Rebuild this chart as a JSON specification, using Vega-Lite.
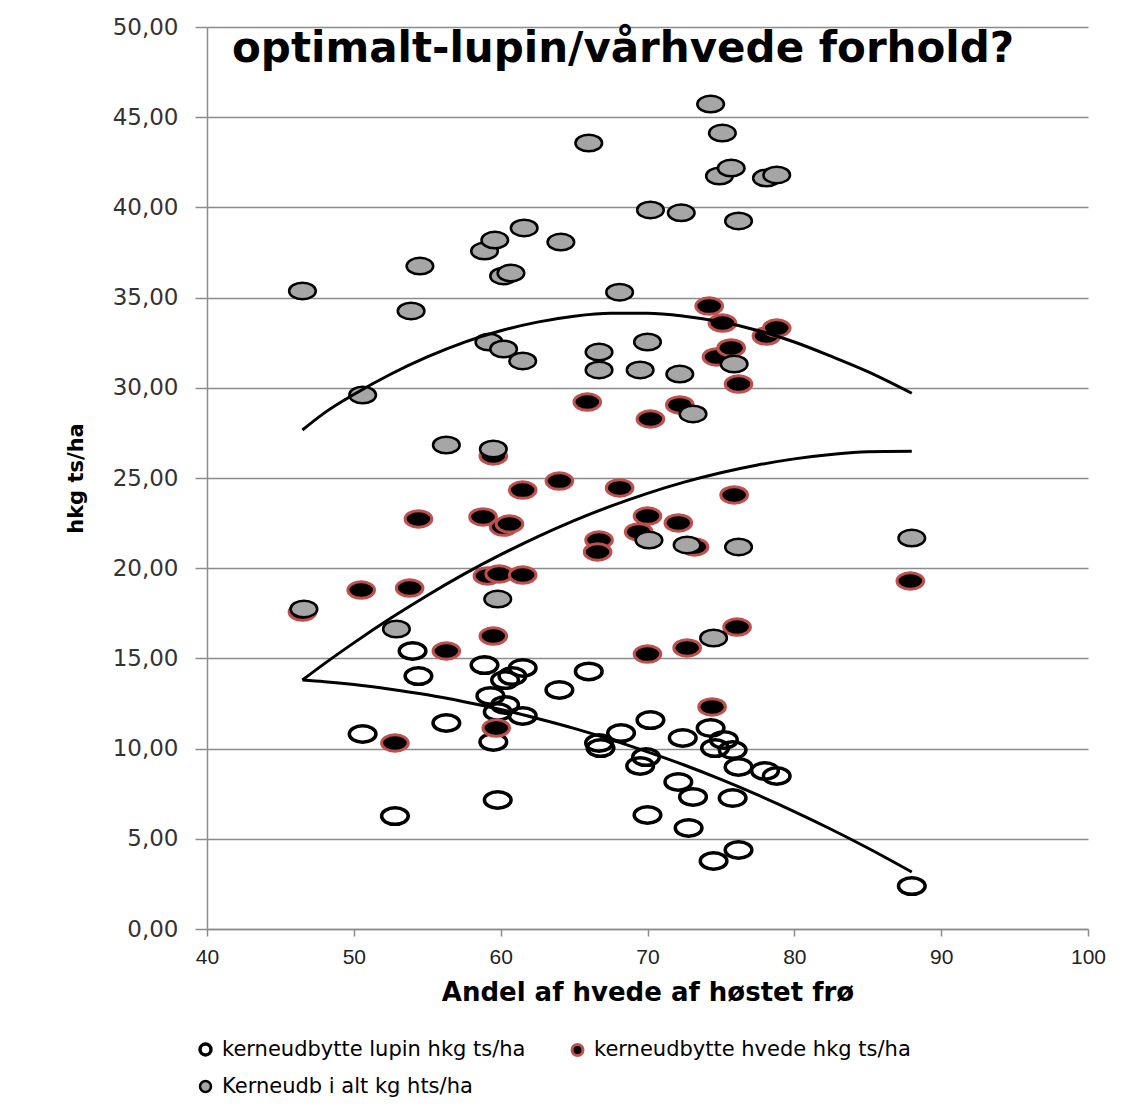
{
  "$schema": "https://vega.github.io/schema/vega-lite/v6.json",
  "autosize": "none",
  "width": 881,
  "height": 902,
  "padding": {"left": 207, "top": 27, "right": 40, "bottom": 179},
  "background": "white",
  "title": {
    "text": "optimalt-lupin/vårhvede forhold?",
    "anchor": "start",
    "frame": "group",
    "orient": "top",
    "baseline": "top",
    "offset": 0,
    "dx": 25,
    "dy": 55,
    "font": "DejaVu Sans",
    "fontWeight": "bold",
    "fontSize": 42,
    "color": "#000000"
  },
  "datasets": {
    "pts": [
      {"x": 54.0, "y": 15.41, "serie": "kerneudbytte lupin hkg ts/ha"},
      {"x": 54.4, "y": 14.02, "serie": "kerneudbytte lupin hkg ts/ha"},
      {"x": 58.9, "y": 14.63, "serie": "kerneudbytte lupin hkg ts/ha"},
      {"x": 61.5, "y": 14.47, "serie": "kerneudbytte lupin hkg ts/ha"},
      {"x": 60.3, "y": 13.8, "serie": "kerneudbytte lupin hkg ts/ha"},
      {"x": 60.8, "y": 14.02, "serie": "kerneudbytte lupin hkg ts/ha"},
      {"x": 64.0, "y": 13.25, "serie": "kerneudbytte lupin hkg ts/ha"},
      {"x": 66.0, "y": 14.28, "serie": "kerneudbytte lupin hkg ts/ha"},
      {"x": 59.3, "y": 12.92, "serie": "kerneudbytte lupin hkg ts/ha"},
      {"x": 60.3, "y": 12.42, "serie": "kerneudbytte lupin hkg ts/ha"},
      {"x": 59.8, "y": 12.03, "serie": "kerneudbytte lupin hkg ts/ha"},
      {"x": 61.5, "y": 11.81, "serie": "kerneudbytte lupin hkg ts/ha"},
      {"x": 56.3, "y": 11.42, "serie": "kerneudbytte lupin hkg ts/ha"},
      {"x": 50.6, "y": 10.81, "serie": "kerneudbytte lupin hkg ts/ha"},
      {"x": 59.5, "y": 10.37, "serie": "kerneudbytte lupin hkg ts/ha"},
      {"x": 59.8, "y": 7.15, "serie": "kerneudbytte lupin hkg ts/ha"},
      {"x": 52.8, "y": 6.26, "serie": "kerneudbytte lupin hkg ts/ha"},
      {"x": 70.2, "y": 11.58, "serie": "kerneudbytte lupin hkg ts/ha"},
      {"x": 68.2, "y": 10.86, "serie": "kerneudbytte lupin hkg ts/ha"},
      {"x": 66.7, "y": 10.31, "serie": "kerneudbytte lupin hkg ts/ha"},
      {"x": 66.8, "y": 10.03, "serie": "kerneudbytte lupin hkg ts/ha"},
      {"x": 72.4, "y": 10.59, "serie": "kerneudbytte lupin hkg ts/ha"},
      {"x": 74.3, "y": 11.14, "serie": "kerneudbytte lupin hkg ts/ha"},
      {"x": 75.2, "y": 10.48, "serie": "kerneudbytte lupin hkg ts/ha"},
      {"x": 74.6, "y": 10.03, "serie": "kerneudbytte lupin hkg ts/ha"},
      {"x": 75.8, "y": 9.92, "serie": "kerneudbytte lupin hkg ts/ha"},
      {"x": 69.9, "y": 9.53, "serie": "kerneudbytte lupin hkg ts/ha"},
      {"x": 69.5, "y": 9.04, "serie": "kerneudbytte lupin hkg ts/ha"},
      {"x": 76.2, "y": 8.98, "serie": "kerneudbytte lupin hkg ts/ha"},
      {"x": 78.0, "y": 8.76, "serie": "kerneudbytte lupin hkg ts/ha"},
      {"x": 78.8, "y": 8.48, "serie": "kerneudbytte lupin hkg ts/ha"},
      {"x": 72.1, "y": 8.15, "serie": "kerneudbytte lupin hkg ts/ha"},
      {"x": 73.1, "y": 7.32, "serie": "kerneudbytte lupin hkg ts/ha"},
      {"x": 75.8, "y": 7.26, "serie": "kerneudbytte lupin hkg ts/ha"},
      {"x": 70.0, "y": 6.32, "serie": "kerneudbytte lupin hkg ts/ha"},
      {"x": 72.8, "y": 5.6, "serie": "kerneudbytte lupin hkg ts/ha"},
      {"x": 76.2, "y": 4.38, "serie": "kerneudbytte lupin hkg ts/ha"},
      {"x": 74.5, "y": 3.77, "serie": "kerneudbytte lupin hkg ts/ha"},
      {"x": 88.0, "y": 2.38, "serie": "kerneudbytte lupin hkg ts/ha"},

      {"x": 74.2, "y": 34.53, "serie": "kerneudbytte hvede hkg ts/ha"},
      {"x": 75.1, "y": 33.59, "serie": "kerneudbytte hvede hkg ts/ha"},
      {"x": 74.7, "y": 31.71, "serie": "kerneudbytte hvede hkg ts/ha"},
      {"x": 75.7, "y": 32.21, "serie": "kerneudbytte hvede hkg ts/ha"},
      {"x": 78.1, "y": 32.87, "serie": "kerneudbytte hvede hkg ts/ha"},
      {"x": 78.8, "y": 33.31, "serie": "kerneudbytte hvede hkg ts/ha"},
      {"x": 76.2, "y": 30.21, "serie": "kerneudbytte hvede hkg ts/ha"},
      {"x": 65.9, "y": 29.21, "serie": "kerneudbytte hvede hkg ts/ha"},
      {"x": 70.2, "y": 28.27, "serie": "kerneudbytte hvede hkg ts/ha"},
      {"x": 72.2, "y": 29.05, "serie": "kerneudbytte hvede hkg ts/ha"},
      {"x": 59.5, "y": 26.22, "serie": "kerneudbytte hvede hkg ts/ha"},
      {"x": 64.0, "y": 24.83, "serie": "kerneudbytte hvede hkg ts/ha"},
      {"x": 61.5, "y": 24.33, "serie": "kerneudbytte hvede hkg ts/ha"},
      {"x": 68.1, "y": 24.45, "serie": "kerneudbytte hvede hkg ts/ha"},
      {"x": 75.9, "y": 24.06, "serie": "kerneudbytte hvede hkg ts/ha"},
      {"x": 54.4, "y": 22.73, "serie": "kerneudbytte hvede hkg ts/ha"},
      {"x": 58.8, "y": 22.84, "serie": "kerneudbytte hvede hkg ts/ha"},
      {"x": 60.2, "y": 22.28, "serie": "kerneudbytte hvede hkg ts/ha"},
      {"x": 60.6, "y": 22.45, "serie": "kerneudbytte hvede hkg ts/ha"},
      {"x": 70.0, "y": 22.89, "serie": "kerneudbytte hvede hkg ts/ha"},
      {"x": 72.1, "y": 22.51, "serie": "kerneudbytte hvede hkg ts/ha"},
      {"x": 69.4, "y": 22.01, "serie": "kerneudbytte hvede hkg ts/ha"},
      {"x": 66.7, "y": 21.56, "serie": "kerneudbytte hvede hkg ts/ha"},
      {"x": 66.6, "y": 20.9, "serie": "kerneudbytte hvede hkg ts/ha"},
      {"x": 73.2, "y": 21.18, "serie": "kerneudbytte hvede hkg ts/ha"},
      {"x": 50.5, "y": 18.79, "serie": "kerneudbytte hvede hkg ts/ha"},
      {"x": 53.8, "y": 18.9, "serie": "kerneudbytte hvede hkg ts/ha"},
      {"x": 59.1, "y": 19.57, "serie": "kerneudbytte hvede hkg ts/ha"},
      {"x": 59.9, "y": 19.68, "serie": "kerneudbytte hvede hkg ts/ha"},
      {"x": 61.5, "y": 19.62, "serie": "kerneudbytte hvede hkg ts/ha"},
      {"x": 46.5, "y": 17.57, "serie": "kerneudbytte hvede hkg ts/ha"},
      {"x": 87.9, "y": 19.29, "serie": "kerneudbytte hvede hkg ts/ha"},
      {"x": 56.3, "y": 15.41, "serie": "kerneudbytte hvede hkg ts/ha"},
      {"x": 59.5, "y": 16.24, "serie": "kerneudbytte hvede hkg ts/ha"},
      {"x": 70.0, "y": 15.24, "serie": "kerneudbytte hvede hkg ts/ha"},
      {"x": 72.7, "y": 15.58, "serie": "kerneudbytte hvede hkg ts/ha"},
      {"x": 76.1, "y": 16.74, "serie": "kerneudbytte hvede hkg ts/ha"},
      {"x": 52.8, "y": 10.31, "serie": "kerneudbytte hvede hkg ts/ha"},
      {"x": 59.7, "y": 11.14, "serie": "kerneudbytte hvede hkg ts/ha"},
      {"x": 74.4, "y": 12.31, "serie": "kerneudbytte hvede hkg ts/ha"},

      {"x": 46.5, "y": 35.37, "serie": "Kerneudb i alt kg hts/ha"},
      {"x": 54.5, "y": 36.75, "serie": "Kerneudb i alt kg hts/ha"},
      {"x": 53.9, "y": 34.26, "serie": "Kerneudb i alt kg hts/ha"},
      {"x": 58.9, "y": 37.58, "serie": "Kerneudb i alt kg hts/ha"},
      {"x": 59.6, "y": 38.19, "serie": "Kerneudb i alt kg hts/ha"},
      {"x": 60.2, "y": 36.2, "serie": "Kerneudb i alt kg hts/ha"},
      {"x": 60.7, "y": 36.36, "serie": "Kerneudb i alt kg hts/ha"},
      {"x": 61.6, "y": 38.86, "serie": "Kerneudb i alt kg hts/ha"},
      {"x": 64.1, "y": 38.08, "serie": "Kerneudb i alt kg hts/ha"},
      {"x": 66.0, "y": 43.57, "serie": "Kerneudb i alt kg hts/ha"},
      {"x": 68.1, "y": 35.3, "serie": "Kerneudb i alt kg hts/ha"},
      {"x": 70.2, "y": 39.86, "serie": "Kerneudb i alt kg hts/ha"},
      {"x": 72.3, "y": 39.7, "serie": "Kerneudb i alt kg hts/ha"},
      {"x": 74.3, "y": 45.73, "serie": "Kerneudb i alt kg hts/ha"},
      {"x": 75.1, "y": 44.12, "serie": "Kerneudb i alt kg hts/ha"},
      {"x": 74.9, "y": 41.74, "serie": "Kerneudb i alt kg hts/ha"},
      {"x": 75.7, "y": 42.18, "serie": "Kerneudb i alt kg hts/ha"},
      {"x": 76.2, "y": 39.25, "serie": "Kerneudb i alt kg hts/ha"},
      {"x": 78.1, "y": 41.63, "serie": "Kerneudb i alt kg hts/ha"},
      {"x": 78.8, "y": 41.8, "serie": "Kerneudb i alt kg hts/ha"},
      {"x": 50.6, "y": 29.6, "serie": "Kerneudb i alt kg hts/ha"},
      {"x": 59.2, "y": 32.54, "serie": "Kerneudb i alt kg hts/ha"},
      {"x": 60.2, "y": 32.15, "serie": "Kerneudb i alt kg hts/ha"},
      {"x": 61.5, "y": 31.49, "serie": "Kerneudb i alt kg hts/ha"},
      {"x": 66.7, "y": 31.98, "serie": "Kerneudb i alt kg hts/ha"},
      {"x": 66.7, "y": 30.99, "serie": "Kerneudb i alt kg hts/ha"},
      {"x": 69.5, "y": 30.99, "serie": "Kerneudb i alt kg hts/ha"},
      {"x": 70.0, "y": 32.54, "serie": "Kerneudb i alt kg hts/ha"},
      {"x": 72.2, "y": 30.76, "serie": "Kerneudb i alt kg hts/ha"},
      {"x": 73.1, "y": 28.55, "serie": "Kerneudb i alt kg hts/ha"},
      {"x": 75.9, "y": 31.32, "serie": "Kerneudb i alt kg hts/ha"},
      {"x": 56.3, "y": 26.83, "serie": "Kerneudb i alt kg hts/ha"},
      {"x": 59.5, "y": 26.61, "serie": "Kerneudb i alt kg hts/ha"},
      {"x": 70.1, "y": 21.56, "serie": "Kerneudb i alt kg hts/ha"},
      {"x": 72.7, "y": 21.29, "serie": "Kerneudb i alt kg hts/ha"},
      {"x": 76.2, "y": 21.18, "serie": "Kerneudb i alt kg hts/ha"},
      {"x": 88.0, "y": 21.67, "serie": "Kerneudb i alt kg hts/ha"},
      {"x": 46.6, "y": 17.74, "serie": "Kerneudb i alt kg hts/ha"},
      {"x": 59.8, "y": 18.29, "serie": "Kerneudb i alt kg hts/ha"},
      {"x": 52.9, "y": 16.63, "serie": "Kerneudb i alt kg hts/ha"},
      {"x": 74.5, "y": 16.13, "serie": "Kerneudb i alt kg hts/ha"}
    ],
    "trend": [
      {"x": 46.5, "y": 27.66, "t": "total"}, {"x": 48, "y": 28.61, "t": "total"}, {"x": 50, "y": 29.63, "t": "total"},
      {"x": 52.5, "y": 30.75, "t": "total"}, {"x": 55, "y": 31.71, "t": "total"}, {"x": 57.5, "y": 32.52, "t": "total"},
      {"x": 60, "y": 33.16, "t": "total"}, {"x": 62.5, "y": 33.64, "t": "total"}, {"x": 65, "y": 33.97, "t": "total"},
      {"x": 67.5, "y": 34.13, "t": "total"}, {"x": 70, "y": 34.13, "t": "total"}, {"x": 72.5, "y": 33.97, "t": "total"},
      {"x": 75, "y": 33.66, "t": "total"}, {"x": 77.5, "y": 33.18, "t": "total"}, {"x": 80, "y": 32.54, "t": "total"},
      {"x": 82.5, "y": 31.75, "t": "total"}, {"x": 85, "y": 30.9, "t": "total"}, {"x": 88, "y": 29.7, "t": "total"},

      {"x": 46.5, "y": 13.8, "t": "hvede"}, {"x": 48, "y": 14.71, "t": "hvede"}, {"x": 50, "y": 15.86, "t": "hvede"},
      {"x": 52.5, "y": 17.22, "t": "hvede"}, {"x": 55, "y": 18.49, "t": "hvede"}, {"x": 57.5, "y": 19.67, "t": "hvede"},
      {"x": 60, "y": 20.75, "t": "hvede"}, {"x": 62.5, "y": 21.74, "t": "hvede"}, {"x": 65, "y": 22.64, "t": "hvede"},
      {"x": 67.5, "y": 23.44, "t": "hvede"}, {"x": 70, "y": 24.15, "t": "hvede"}, {"x": 72.5, "y": 24.77, "t": "hvede"},
      {"x": 75, "y": 25.29, "t": "hvede"}, {"x": 77.5, "y": 25.72, "t": "hvede"}, {"x": 80, "y": 26.06, "t": "hvede"},
      {"x": 82.5, "y": 26.3, "t": "hvede"}, {"x": 85, "y": 26.45, "t": "hvede"}, {"x": 88, "y": 26.48, "t": "hvede"},

      {"x": 46.5, "y": 13.8, "t": "lupin"}, {"x": 48, "y": 13.71, "t": "lupin"}, {"x": 50, "y": 13.55, "t": "lupin"},
      {"x": 52.5, "y": 13.29, "t": "lupin"}, {"x": 55, "y": 12.98, "t": "lupin"}, {"x": 57.5, "y": 12.6, "t": "lupin"},
      {"x": 60, "y": 12.17, "t": "lupin"}, {"x": 62.5, "y": 11.67, "t": "lupin"}, {"x": 65, "y": 11.12, "t": "lupin"},
      {"x": 67.5, "y": 10.5, "t": "lupin"}, {"x": 70, "y": 9.82, "t": "lupin"}, {"x": 72.5, "y": 9.09, "t": "lupin"},
      {"x": 75, "y": 8.29, "t": "lupin"}, {"x": 77.5, "y": 7.43, "t": "lupin"}, {"x": 80, "y": 6.51, "t": "lupin"},
      {"x": 82.5, "y": 5.53, "t": "lupin"}, {"x": 85, "y": 4.49, "t": "lupin"}, {"x": 88, "y": 3.16, "t": "lupin"}
    ]
  },
  "layer": [
    {
      "data": {"name": "pts"},
      "mark": {
        "type": "point",
        "filled": false,
        "shape": "M -1 0 A 1 0.62 0 1 1 1 0 A 1 0.62 0 1 1 -1 0 Z",
        "size": 710,
        "opacity": 1
      },
      "encoding": {
        "x": {
          "field": "x",
          "type": "quantitative",
          "scale": {"domain": [40, 100], "nice": false, "zero": false},
          "axis": {
            "title": "Andel af hvede af høstet frø",
            "values": [40, 50, 60, 70, 80, 90, 100],
            "grid": false,
            "format": "d",
            "tickSize": 7,
            "labelPadding": 10,
            "labelFlush": false,
            "titlePadding": 12
          }
        },
        "y": {
          "field": "y",
          "type": "quantitative",
          "scale": {"domain": [0, 50], "nice": false, "zero": true},
          "axis": {
            "title": "hkg ts/ha",
            "values": [0, 5, 10, 15, 20, 25, 30, 35, 40, 45, 50],
            "labelExpr": "replace(format(datum.value, '.2f'), '.', ',')",
            "grid": true,
            "tickSize": 12,
            "labelPadding": 17,
            "labelFlush": false,
            "titlePadding": 26,
            "labelFont": "DejaVu Sans",
            "labelFontSize": 23,
            "labelColor": "#333333",
            "titleFontSize": 21
          }
        },
        "fill": {
          "field": "serie",
          "type": "nominal",
          "scale": {
            "domain": ["kerneudbytte lupin hkg ts/ha", "kerneudbytte hvede hkg ts/ha", "Kerneudb i alt kg hts/ha"],
            "range": ["transparent", "#000000", "#A6A6A6"]
          },
          "legend": {
            "title": null,
            "orient": "none",
            "legendX": -12,
            "legendY": 1012,
            "columns": 2,
            "direction": "horizontal",
            "symbolType": "circle",
            "symbolSize": 120,
            "symbolStrokeWidth": 2.5,
            "columnPadding": 40,
            "rowPadding": 13,
            "labelFont": "DejaVu Sans",
            "labelFontSize": 21,
            "labelLimit": 0,
            "labelColor": "#000000",
            "labelOffset": 6
          }
        },
        "stroke": {
          "field": "serie",
          "type": "nominal",
          "scale": {
            "domain": ["kerneudbytte lupin hkg ts/ha", "kerneudbytte hvede hkg ts/ha", "Kerneudb i alt kg hts/ha"],
            "range": ["#000000", "#C0504D", "#000000"]
          },
          "legend": {
            "title": null,
            "orient": "none",
            "legendX": -12,
            "legendY": 1012,
            "columns": 2,
            "direction": "horizontal",
            "symbolType": "circle",
            "symbolSize": 120,
            "symbolStrokeWidth": 2.5,
            "columnPadding": 40,
            "rowPadding": 13,
            "labelFont": "DejaVu Sans",
            "labelFontSize": 21,
            "labelLimit": 0,
            "labelColor": "#000000",
            "labelOffset": 6
          }
        },
        "strokeWidth": {
          "field": "serie",
          "type": "nominal",
          "scale": {
            "domain": ["kerneudbytte lupin hkg ts/ha", "kerneudbytte hvede hkg ts/ha", "Kerneudb i alt kg hts/ha"],
            "range": [3.5, 2.5, 3.5]
          },
          "legend": null
        }
      }
    },
    {
      "data": {"name": "trend"},
      "mark": {"type": "line", "color": "#000000", "strokeWidth": 3, "interpolate": "monotone"},
      "encoding": {
        "x": {"field": "x", "type": "quantitative"},
        "y": {"field": "y", "type": "quantitative"},
        "detail": {"field": "t", "type": "nominal"}
      }
    }
  ],
  "config": {
    "view": {"stroke": null},
    "axis": {
      "domainColor": "#8c8c8c",
      "domainWidth": 1.5,
      "tickColor": "#8c8c8c",
      "tickWidth": 1.5,
      "gridColor": "#8c8c8c",
      "gridWidth": 1.5,
      "labelFont": "Liberation Sans",
      "labelFontSize": 21,
      "labelColor": "#222222",
      "titleFont": "DejaVu Sans",
      "titleFontWeight": "bold",
      "titleFontSize": 26,
      "titleColor": "#000000"
    }
  }
}
